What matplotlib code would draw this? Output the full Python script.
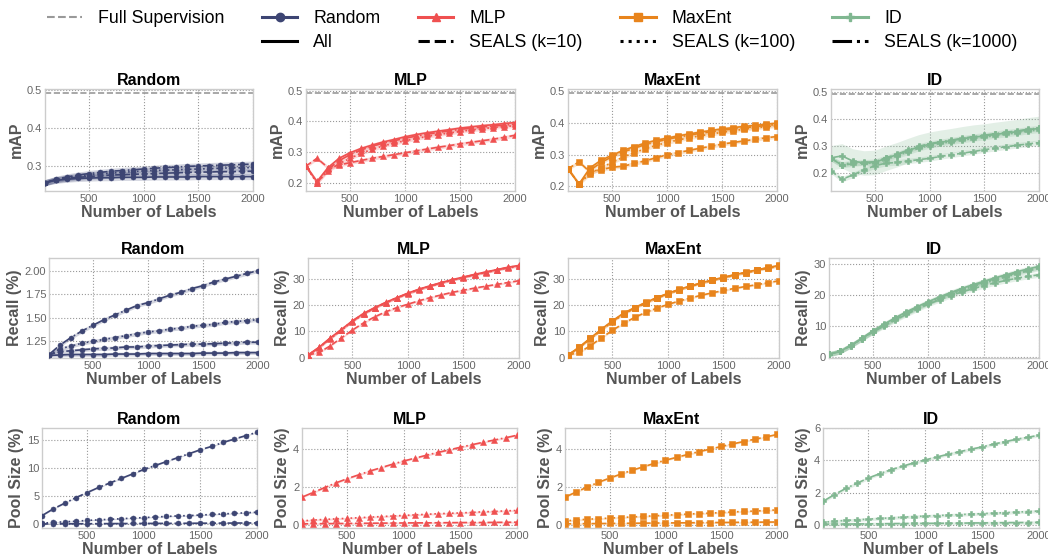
import matplotlib
matplotlib.use('Agg')
import matplotlib.pyplot as plt
from matplotlib.lines import Line2D
import numpy as np

plt.rcParams['font.family'] = ['Liberation Sans', 'DejaVu Sans']

# ---------------- data ----------------
num_labels = [100, 200, 300, 400, 500, 600, 700, 800, 900, 1000,
              1100, 1200, 1300, 1400, 1500, 1600, 1700, 1800, 1900, 2000]
models = ['Random', 'MLP', 'MaxEnt', 'ID']
methods = ['All', 'SEALS (k=10)', 'SEALS (k=100)', 'SEALS (k=1000)']
full_supervision_map = 0.493

# mAP
random_map = {
    'All':            [0.256, 0.262, 0.265, 0.267, 0.268, 0.269, 0.269, 0.270, 0.270, 0.270, 0.271, 0.271, 0.271, 0.271, 0.272, 0.272, 0.272, 0.272, 0.272, 0.272],
    'SEALS (k=10)':   [0.256, 0.263, 0.267, 0.270, 0.272, 0.274, 0.276, 0.277, 0.278, 0.279, 0.280, 0.281, 0.282, 0.283, 0.284, 0.284, 0.285, 0.285, 0.286, 0.286],
    'SEALS (k=100)':  [0.256, 0.264, 0.269, 0.273, 0.276, 0.279, 0.281, 0.283, 0.285, 0.287, 0.288, 0.289, 0.290, 0.291, 0.292, 0.293, 0.294, 0.295, 0.295, 0.296],
    'SEALS (k=1000)': [0.256, 0.265, 0.271, 0.276, 0.280, 0.283, 0.286, 0.288, 0.290, 0.292, 0.294, 0.296, 0.297, 0.299, 0.300, 0.301, 0.302, 0.303, 0.304, 0.305],
}
mlp_map = {
    'All':            [0.255, 0.205, 0.250, 0.280, 0.298, 0.312, 0.323, 0.333, 0.341, 0.350, 0.357, 0.363, 0.368, 0.373, 0.378, 0.382, 0.386, 0.389, 0.393, 0.396],
    'SEALS (k=10)':   [0.255, 0.280, 0.250, 0.258, 0.266, 0.273, 0.280, 0.286, 0.292, 0.298, 0.304, 0.310, 0.316, 0.321, 0.327, 0.332, 0.337, 0.342, 0.348, 0.355],
    'SEALS (k=100)':  [0.255, 0.200, 0.240, 0.262, 0.280, 0.296, 0.309, 0.320, 0.329, 0.337, 0.344, 0.351, 0.357, 0.362, 0.367, 0.372, 0.376, 0.380, 0.383, 0.386],
    'SEALS (k=1000)': [0.255, 0.200, 0.245, 0.272, 0.292, 0.307, 0.319, 0.329, 0.337, 0.345, 0.352, 0.358, 0.364, 0.369, 0.374, 0.378, 0.382, 0.385, 0.388, 0.391],
}
maxent_map = {
    'All':            [0.255, 0.207, 0.258, 0.282, 0.298, 0.313, 0.325, 0.336, 0.345, 0.352, 0.359, 0.365, 0.371, 0.376, 0.381, 0.385, 0.389, 0.392, 0.396, 0.399],
    'SEALS (k=10)':   [0.255, 0.277, 0.245, 0.252, 0.260, 0.263, 0.272, 0.280, 0.290, 0.299, 0.306, 0.313, 0.320, 0.326, 0.333, 0.338, 0.343, 0.348, 0.353, 0.357],
    'SEALS (k=100)':  [0.255, 0.207, 0.240, 0.258, 0.275, 0.292, 0.306, 0.318, 0.329, 0.338, 0.346, 0.353, 0.359, 0.365, 0.370, 0.375, 0.380, 0.384, 0.388, 0.391],
    'SEALS (k=1000)': [0.255, 0.207, 0.250, 0.275, 0.293, 0.308, 0.320, 0.331, 0.340, 0.348, 0.355, 0.361, 0.367, 0.372, 0.377, 0.381, 0.385, 0.388, 0.392, 0.395],
}
id_map = {
    'All':            [0.257, 0.264, 0.245, 0.238, 0.240, 0.255, 0.268, 0.283, 0.297, 0.307, 0.314, 0.320, 0.327, 0.333, 0.337, 0.343, 0.348, 0.353, 0.360, 0.365],
    'SEALS (k=10)':   [0.209, 0.178, 0.194, 0.212, 0.228, 0.237, 0.240, 0.245, 0.250, 0.255, 0.262, 0.268, 0.274, 0.280, 0.287, 0.292, 0.298, 0.303, 0.308, 0.313],
    'SEALS (k=100)':  [0.255, 0.232, 0.240, 0.238, 0.238, 0.250, 0.265, 0.278, 0.292, 0.302, 0.310, 0.316, 0.322, 0.328, 0.333, 0.339, 0.344, 0.349, 0.355, 0.360],
    'SEALS (k=1000)': [0.255, 0.230, 0.235, 0.240, 0.243, 0.257, 0.270, 0.285, 0.299, 0.309, 0.316, 0.322, 0.329, 0.335, 0.340, 0.346, 0.351, 0.356, 0.362, 0.367],
}

# Recall (%)
random_recall = {
    'All':            [1.100, 1.105, 1.110, 1.110, 1.110, 1.110, 1.115, 1.115, 1.115, 1.120, 1.120, 1.120, 1.120, 1.120, 1.125, 1.125, 1.125, 1.130, 1.130, 1.130],
    'SEALS (k=10)':   [1.110, 1.140, 1.150, 1.160, 1.170, 1.175, 1.180, 1.190, 1.190, 1.200, 1.205, 1.210, 1.215, 1.220, 1.220, 1.225, 1.230, 1.235, 1.240, 1.240],
    'SEALS (k=100)':  [1.110, 1.170, 1.200, 1.230, 1.250, 1.270, 1.290, 1.310, 1.330, 1.350, 1.360, 1.380, 1.390, 1.410, 1.420, 1.430, 1.450, 1.460, 1.470, 1.480],
    'SEALS (k=1000)': [1.110, 1.210, 1.290, 1.360, 1.420, 1.480, 1.530, 1.580, 1.630, 1.660, 1.700, 1.740, 1.770, 1.810, 1.840, 1.880, 1.910, 1.940, 1.970, 2.000],
}
mlp_recall = {
    'All':            [1.0, 4.0, 7.5, 10.7, 14.0, 16.8, 19.0, 21.0, 22.8, 24.5, 26.0, 27.3, 28.5, 29.6, 30.6, 31.6, 32.5, 33.4, 34.3, 35.0],
    'SEALS (k=10)':   [1.0, 2.0, 4.5, 7.5, 10.5, 13.2, 15.5, 17.4, 19.0, 20.3, 21.6, 22.8, 23.8, 24.8, 25.6, 26.4, 27.1, 27.8, 28.5, 29.2],
    'SEALS (k=100)':  [1.0, 3.8, 7.2, 10.4, 13.7, 16.5, 18.8, 20.8, 22.6, 24.3, 25.8, 27.1, 28.3, 29.4, 30.4, 31.4, 32.3, 33.2, 34.0, 34.7],
    'SEALS (k=1000)': [1.0, 3.9, 7.4, 10.6, 13.9, 16.7, 18.9, 20.9, 22.7, 24.4, 25.9, 27.2, 28.4, 29.5, 30.5, 31.5, 32.4, 33.3, 34.2, 34.9],
}
maxent_recall = {
    'All':            [1.0, 4.0, 7.4, 10.8, 14.0, 16.9, 19.0, 21.0, 22.8, 24.4, 25.9, 27.2, 28.4, 29.5, 30.5, 31.5, 32.4, 33.3, 34.2, 35.0],
    'SEALS (k=10)':   [1.0, 2.0, 4.5, 7.5, 10.4, 13.0, 15.3, 17.2, 18.8, 20.2, 21.5, 22.6, 23.7, 24.6, 25.5, 26.3, 27.0, 27.7, 28.4, 29.2],
    'SEALS (k=100)':  [1.0, 3.8, 7.1, 10.4, 13.6, 16.5, 18.7, 20.7, 22.5, 24.2, 25.7, 27.0, 28.2, 29.3, 30.3, 31.3, 32.2, 33.1, 33.9, 34.7],
    'SEALS (k=1000)': [1.0, 3.9, 7.3, 10.6, 13.8, 16.7, 18.9, 20.9, 22.7, 24.3, 25.8, 27.1, 28.3, 29.4, 30.4, 31.4, 32.3, 33.2, 34.1, 34.9],
}
id_recall = {
    'All':            [1.0, 1.9, 3.9, 6.2, 8.6, 10.7, 12.7, 14.6, 16.3, 17.9, 19.4, 20.8, 22.1, 23.3, 24.4, 25.5, 26.5, 27.5, 28.4, 29.2],
    'SEALS (k=10)':   [1.0, 1.9, 3.8, 6.0, 8.2, 10.1, 12.0, 13.8, 15.5, 17.1, 18.5, 19.8, 21.0, 22.0, 23.0, 23.9, 24.7, 25.4, 26.0, 26.5],
    'SEALS (k=100)':  [1.0, 1.9, 3.8, 6.0, 8.3, 10.4, 12.3, 14.2, 15.9, 17.5, 19.0, 20.3, 21.6, 22.7, 23.8, 24.8, 25.8, 26.8, 27.7, 28.6],
    'SEALS (k=1000)': [1.0, 1.9, 3.9, 6.1, 8.4, 10.5, 12.5, 14.3, 16.0, 17.6, 19.1, 20.5, 21.8, 23.0, 24.1, 25.2, 26.2, 27.1, 28.0, 28.9],
}

# Pool size (%)
random_pool = {
    'SEALS (k=10)':   [0.02, 0.03, 0.04, 0.05, 0.06, 0.07, 0.08, 0.09, 0.10, 0.11, 0.12, 0.12, 0.13, 0.14, 0.15, 0.16, 0.17, 0.18, 0.19, 0.20],
    'SEALS (k=100)':  [0.15, 0.30, 0.40, 0.50, 0.65, 0.75, 0.85, 0.95, 1.05, 1.15, 1.25, 1.35, 1.45, 1.50, 1.60, 1.70, 1.80, 1.90, 2.00, 2.10],
    'SEALS (k=1000)': [1.50, 2.70, 3.70, 4.70, 5.60, 6.50, 7.30, 8.10, 8.90, 9.70, 10.40, 11.10, 11.80, 12.50, 13.20, 13.80, 14.50, 15.10, 15.70, 16.30],
}
mlp_pool = {
    'SEALS (k=10)':   [0.050, 0.055, 0.060, 0.065, 0.070, 0.075, 0.080, 0.085, 0.090, 0.095, 0.100, 0.100, 0.105, 0.110, 0.115, 0.120, 0.120, 0.125, 0.130, 0.135],
    'SEALS (k=100)':  [0.20, 0.25, 0.28, 0.31, 0.34, 0.37, 0.40, 0.43, 0.46, 0.49, 0.52, 0.55, 0.58, 0.60, 0.62, 0.65, 0.68, 0.70, 0.73, 0.75],
    'SEALS (k=1000)': [1.45, 1.70, 1.95, 2.20, 2.42, 2.62, 2.82, 3.00, 3.18, 3.35, 3.50, 3.65, 3.80, 3.93, 4.07, 4.20, 4.33, 4.45, 4.57, 4.70],
}
maxent_pool = {
    'SEALS (k=10)':   [0.050, 0.055, 0.060, 0.065, 0.070, 0.075, 0.080, 0.085, 0.090, 0.095, 0.100, 0.105, 0.110, 0.115, 0.120, 0.125, 0.130, 0.135, 0.140, 0.145],
    'SEALS (k=100)':  [0.20, 0.25, 0.29, 0.32, 0.35, 0.38, 0.41, 0.44, 0.47, 0.50, 0.53, 0.56, 0.59, 0.61, 0.64, 0.67, 0.70, 0.72, 0.75, 0.78],
    'SEALS (k=1000)': [1.45, 1.72, 1.98, 2.23, 2.45, 2.66, 2.86, 3.04, 3.22, 3.39, 3.54, 3.69, 3.84, 3.97, 4.11, 4.24, 4.37, 4.49, 4.61, 4.74],
}
id_pool = {
    'SEALS (k=10)':   [0.03, 0.04, 0.045, 0.05, 0.055, 0.06, 0.07, 0.075, 0.08, 0.085, 0.09, 0.095, 0.10, 0.11, 0.115, 0.12, 0.13, 0.135, 0.14, 0.15],
    'SEALS (k=100)':  [0.15, 0.22, 0.27, 0.31, 0.35, 0.39, 0.43, 0.47, 0.51, 0.54, 0.57, 0.60, 0.63, 0.66, 0.69, 0.72, 0.75, 0.78, 0.82, 0.85],
    'SEALS (k=1000)': [1.45, 1.87, 2.25, 2.58, 2.90, 3.17, 3.42, 3.63, 3.84, 4.02, 4.20, 4.37, 4.53, 4.68, 4.83, 5.00, 5.15, 5.30, 5.42, 5.55],
}

# approximate half-width of the shaded spread around each curve
map_spread = {'Random': 0.008, 'MLP': 0.006, 'MaxEnt': 0.006, 'ID': 0.010}
id_map_all_spread = 0.045
recall_spread = {'Random': 0.02, 'MLP': 0.4, 'MaxEnt': 0.4, 'ID': 0.8}
pool_spread = {'Random': 0.1, 'MLP': 0.05, 'MaxEnt': 0.05, 'ID': 0.1}

# ---------------- style ----------------
colors = {'Random': '#3d4573', 'MLP': '#ef5050', 'MaxEnt': '#e8841c', 'ID': '#80b791'}
markers = {'Random': 'o', 'MLP': '^', 'MaxEnt': 's', 'ID': 'P'}
msizes = {'Random': 3.6, 'MLP': 4.3, 'MaxEnt': 4.0, 'ID': 4.8}
lstyles = {'All': '-', 'SEALS (k=10)': '--', 'SEALS (k=100)': ':', 'SEALS (k=1000)': '-.'}

W, H = 1048, 556
fig = plt.figure(figsize=(W / 100, H / 100), dpi=100)

# panel boxes in pixels (left, top, right, bottom)
boxes = [
    [(45, 89, 253, 191), (306, 89, 515, 191), (568, 89, 777, 191), (831, 89, 1039, 191)],
    [(49, 258, 258, 358), (308, 258, 519, 358), (568, 258, 779, 358), (829, 258, 1039, 358)],
    [(42, 428, 257, 528), (302, 428, 517, 528), (565, 428, 777, 528), (823, 428, 1039, 528)],
]

map_data = {'Random': random_map, 'MLP': mlp_map, 'MaxEnt': maxent_map, 'ID': id_map}
recall_data = {'Random': random_recall, 'MLP': mlp_recall, 'MaxEnt': maxent_recall, 'ID': id_recall}
pool_data = {'Random': random_pool, 'MLP': mlp_pool, 'MaxEnt': maxent_pool, 'ID': id_pool}
rows = [('mAP', map_data), ('Recall (%)', recall_data), ('Pool Size (%)', pool_data)]

ylims = [
    [(0.234, 0.503), (0.174, 0.505), (0.185, 0.507), (0.135, 0.51)],
    [(1.073, 2.134), (-0.1, 37.8), (-0.1, 37.8), (-0.2, 31.9)],
    [(-0.7, 17.06), (-0.17, 5.08), (-0.17, 5.08), (-0.2, 6.0)],
]
yticks = [
    [[0.3, 0.4, 0.5], [0.2, 0.3, 0.4, 0.5], [0.2, 0.3, 0.4, 0.5], [0.2, 0.3, 0.4, 0.5]],
    [[1.25, 1.5, 1.75, 2.0], [0, 10, 20, 30], [0, 10, 20, 30], [0, 10, 20, 30]],
    [[0, 5, 10, 15], [0, 2, 4], [0, 2, 4], [0, 2, 4, 6]],
]

x = np.array(num_labels)
grey_txt = '#555555'

for r, (ylabel, data) in enumerate(rows):
    for c, model in enumerate(models):
        l, t, rr, b = boxes[r][c]
        ax = fig.add_axes([l / W, 1 - b / H, (rr - l) / W, (b - t) / H])
        col = colors[model]
        series = data[model]
        for m in methods:
            if m not in series:
                continue
            y = np.array(series[m])
            if r == 0:
                s = id_map_all_spread if (model == 'ID' and m == 'All') else map_spread[model]
            elif r == 1:
                s = recall_spread[model]
            else:
                s = pool_spread[model]
            ax.fill_between(x, y - s, y + s, color=col, alpha=0.22, lw=0)
            ax.plot(x, y, color=col, ls=lstyles[m], lw=1.2, marker=markers[model],
                    ms=msizes[model], mew=0.4, zorder=3)
        if r == 0:
            ax.axhline(full_supervision_map, color='#999999', ls='--', lw=1.2, zorder=2)
        ax.set_xlim(100, 2000)
        ax.set_ylim(*ylims[r][c])
        ax.set_xticks([500, 1000, 1500, 2000])
        ax.set_yticks(yticks[r][c])
        if r == 1 and c == 0:
            ax.set_yticklabels(['%.2f' % v for v in yticks[r][c]])
        ax.grid(True, ls=':', color='#999999', lw=0.8)
        ax.set_axisbelow(True)
        for sp in ax.spines.values():
            sp.set_color('#cccccc')
            sp.set_linewidth(1.0)
        ax.tick_params(length=0, labelsize=8, labelcolor='#666666', pad=2)
        ax.set_title(model, fontsize=11.5, fontweight='bold', color='black', pad=3)
        ax.set_xlabel('Number of Labels', fontsize=11.5, fontweight='bold', color=grey_txt, labelpad=1)
        ax.set_ylabel(ylabel, fontsize=11.5, fontweight='bold', color=grey_txt, labelpad=2)

# ---------------- legend ----------------
blank = Line2D([], [], color='none')
h_full = Line2D([], [], color='#999999', ls='--', lw=1.5)
h_models = [Line2D([], [], color=colors[m], lw=2.2, marker=markers[m], ms=6) for m in models]
h_methods = [Line2D([], [], color='black', lw=2.2, ls=lstyles[m]) for m in methods]
handles = [h_full, blank]
labels = ['Full Supervision', '']
for i in range(4):
    handles += [h_models[i], h_methods[i]]
    labels += [models[i], methods[i]]
fig.legend(handles, labels, loc='center', bbox_to_anchor=(532 / W, 1 - 30.5 / H), ncol=5,
           frameon=False, fontsize=12.8, handlelength=2.0, handletextpad=0.9,
           columnspacing=2.1, labelspacing=0.4)

fig.savefig('out.png', dpi=100)
